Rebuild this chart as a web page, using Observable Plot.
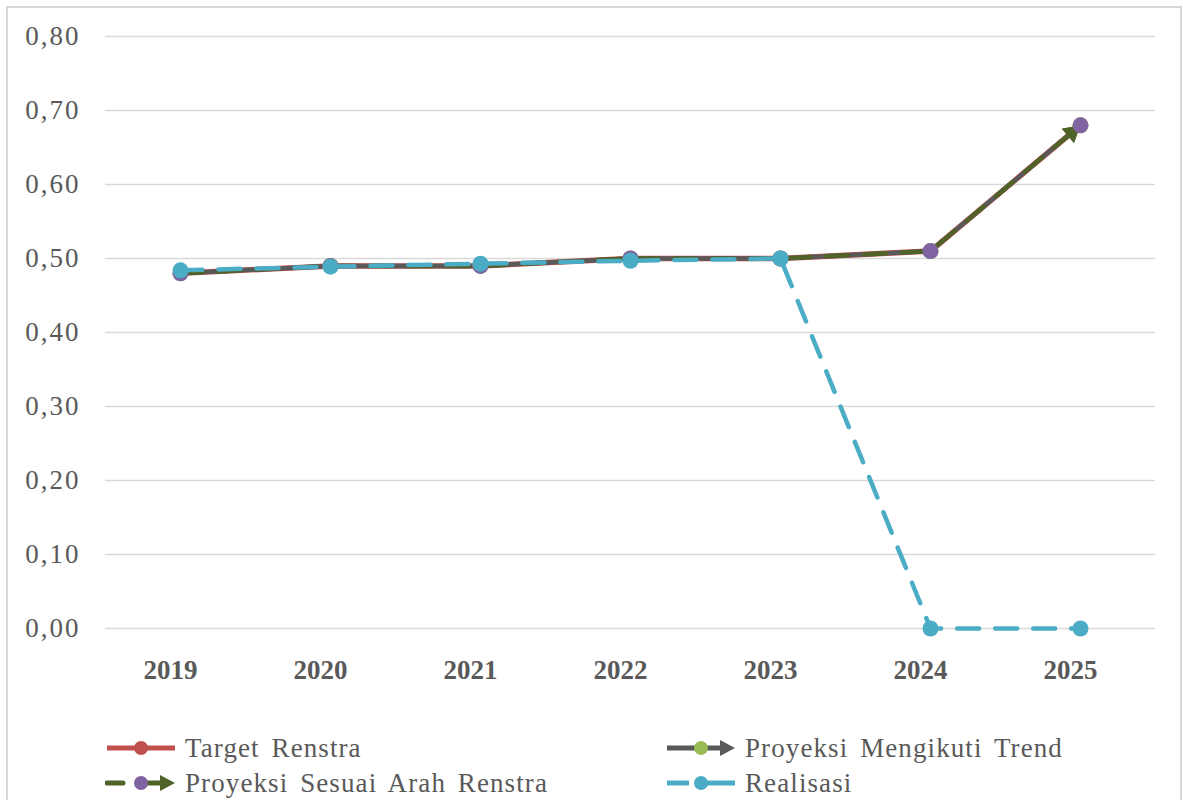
<!DOCTYPE html>
<html>
<head>
<meta charset="utf-8">
<script src="https://cdn.jsdelivr.net/npm/d3@7"></script>
<script src="https://cdn.jsdelivr.net/npm/@observablehq/plot@0.6"></script>
<style>
  html, body { margin: 0; padding: 0; background: #fff; }
  #wrap { position: relative; width: 1183px; height: 800px; overflow: hidden; font-family: "Liberation Serif", "Times New Roman", serif; color: #595959; }
  #chart { position: absolute; left: 0; top: 0; }
  #chart g[aria-label="y-axis tick label"] text { letter-spacing: 2px; }
  #border { position: absolute; left: 6px; top: 6px; width: 1172px; height: 820px; border: 2px solid #d9d9d9; pointer-events: none; }
  .leg { position: absolute; display: flex; align-items: center; font-size: 27px; letter-spacing: 1.1px; word-spacing: 4px; white-space: nowrap; }
  .leg svg { margin-right: 8px; }
</style>
</head>
<body>
<div id="wrap">
  <div id="chart"></div>
  <div id="legend"></div>
  <div id="border"></div>
</div>
<script>
// ---- data ----
const years = ["2019", "2020", "2021", "2022", "2023", "2024", "2025"];
const targetRenstra   = [0.48, 0.49, 0.49, 0.50, 0.50, 0.51, 0.68];
const proyeksiTrend   = [0.48, 0.49, 0.49, 0.50, 0.50, 0.51, 0.68];
const proyeksiRenstra = [0.48, 0.49, 0.49, 0.50, 0.50, 0.51, 0.68];
const realisasi       = [0.484, 0.489, 0.493, 0.497, 0.50, 0.00, 0.00];
const yTicks = [0, 0.1, 0.2, 0.3, 0.4, 0.5, 0.6, 0.7, 0.8];
const seriesNames = ["Target Renstra", "Proyeksi Mengikuti Trend", "Proyeksi Sesuai Arah Renstra", "Realisasi"];

// ---- styles ----
const C = {
  red: "#C0504D", gray: "#595959", lightGreen: "#9BBB59",
  darkGreen: "#4F6228", purple: "#8064A2", blue: "#4BACC6", grid: "#D9D9D9"
};

const rows = (vals) => years.map((y, i) => ({year: y, value: vals[i]}));
const tTarget = rows(targetRenstra);
const tTrend = rows(proyeksiTrend);
const tRenstra = rows(proyeksiRenstra);
const tReal = rows(realisasi);

const W = 1183, H = 700;
const mL = 105, mR = 28, mT = 36, mB = 72;

// scales for computing arrowhead orientation
const xs = Plot.scale({x: {type: "point", domain: years, range: [mL, W - mR], padding: 0.5}});
const ys = Plot.scale({y: {type: "linear", domain: [0, 0.8], range: [H - mB, mT]}});
function arrowFor(vals) {
  const n = vals.length;
  const x1 = xs.apply(years[n - 2]), y1 = ys.apply(vals[n - 2]);
  const x2 = xs.apply(years[n - 1]), y2 = ys.apply(vals[n - 1]);
  const dx = x2 - x1, dy = y2 - y1, len = Math.hypot(dx, dy);
  const rot = Math.atan2(dx, -dy) * 180 / Math.PI;
  const back = 11;
  return {datum: [{year: years[n - 1], value: vals[n - 1]}], rotate: rot, dx: -back * dx / len, dy: -back * dy / len};
}
const aTrend = arrowFor(proyeksiTrend);
const aRenstra = arrowFor(proyeksiRenstra);

const plot = Plot.plot({
  width: W, height: H,
  marginLeft: mL, marginRight: mR, marginTop: mT, marginBottom: mB,
  style: {fontFamily: "'Liberation Serif', 'Times New Roman', serif", color: "#595959", background: "transparent", overflow: "visible"},
  x: {type: "point", domain: years, padding: 0.5, label: null},
  y: {domain: [0, 0.8], label: null},
  marks: [
    Plot.gridY(yTicks, {stroke: C.grid, strokeOpacity: 1, strokeWidth: 1.6}),
    Plot.axisY(yTicks, {tickSize: 0, tickPadding: 25, fontSize: 27, tickFormat: d => d.toFixed(2).replace(".", ","), label: null}),
    Plot.axisX({tickSize: 0, tickPadding: 31, fontSize: 27, fontWeight: "bold", dx: -10, label: null}),
    // Target Renstra
    Plot.line(tTarget, {x: "year", y: "value", stroke: C.red, strokeWidth: 5.5}),
    Plot.dot(tTarget, {x: "year", y: "value", fill: C.red, r: 7}),
    // Proyeksi Mengikuti Trend
    Plot.line(tTrend, {x: "year", y: "value", stroke: C.gray, strokeWidth: 4.5}),
    Plot.dot(aTrend.datum, {x: "year", y: "value", symbol: "triangle", r: 7, fill: C.gray, rotate: aTrend.rotate, dx: aTrend.dx, dy: aTrend.dy}),
    Plot.dot(tTrend, {x: "year", y: "value", fill: C.lightGreen, r: 8}),
    // Proyeksi Sesuai Arah Renstra
    Plot.line(tRenstra, {x: "year", y: "value", stroke: C.darkGreen, strokeWidth: 4.5, strokeDasharray: "22,16"}),
    Plot.dot(aRenstra.datum, {x: "year", y: "value", symbol: "triangle", r: 7, fill: C.darkGreen, rotate: aRenstra.rotate, dx: aRenstra.dx, dy: aRenstra.dy}),
    Plot.dot(tRenstra, {x: "year", y: "value", fill: C.purple, r: 8}),
    // Realisasi
    Plot.line(tReal, {x: "year", y: "value", stroke: C.blue, strokeWidth: 4.5, strokeDasharray: "22,16"}),
    Plot.dot(tReal, {x: "year", y: "value", fill: C.blue, r: 8})
  ]
});
document.getElementById("chart").appendChild(plot);

// ---- legend ----
function sym(kind) {
  const w = 72, h = 22, cy = 11;
  let s = `<svg width="${w}" height="${h}" viewBox="0 0 ${w} ${h}">`;
  if (kind === 0) {
    s += `<line x1="2" x2="70" y1="${cy}" y2="${cy}" stroke="${C.red}" stroke-width="5"/>`;
    s += `<circle cx="36" cy="${cy}" r="7" fill="${C.red}"/>`;
  } else if (kind === 1) {
    s += `<line x1="2" x2="58" y1="${cy}" y2="${cy}" stroke="${C.gray}" stroke-width="5"/>`;
    s += `<path d="M55,${cy - 8} L70,${cy} L55,${cy + 8} Z" fill="${C.gray}"/>`;
    s += `<circle cx="36" cy="${cy}" r="7" fill="${C.lightGreen}"/>`;
  } else if (kind === 2) {
    s += `<line x1="2" x2="18" y1="${cy}" y2="${cy}" stroke="${C.darkGreen}" stroke-width="5" stroke-linecap="round"/>`;
    s += `<line x1="30" x2="58" y1="${cy}" y2="${cy}" stroke="${C.darkGreen}" stroke-width="5"/>`;
    s += `<path d="M55,${cy - 8} L70,${cy} L55,${cy + 8} Z" fill="${C.darkGreen}"/>`;
    s += `<circle cx="36" cy="${cy}" r="7" fill="${C.purple}"/>`;
  } else {
    s += `<line x1="2" x2="24" y1="${cy}" y2="${cy}" stroke="${C.blue}" stroke-width="5"/>`;
    s += `<line x1="32" x2="70" y1="${cy}" y2="${cy}" stroke="${C.blue}" stroke-width="5"/>`;
    s += `<circle cx="36" cy="${cy}" r="7" fill="${C.blue}"/>`;
  }
  return s + `</svg>`;
}
const legPos = [
  {left: 105, top: 732}, {left: 665, top: 732},
  {left: 105, top: 767}, {left: 665, top: 767}
];
const legOrder = [0, 1, 2, 3];
const legend = document.getElementById("legend");
legOrder.forEach((k, i) => {
  const d = document.createElement("div");
  d.className = "leg";
  d.style.left = legPos[i].left + "px";
  d.style.top = legPos[i].top + "px";
  d.style.height = "32px";
  d.innerHTML = sym(k) + `<span>${seriesNames[k]}</span>`;
  legend.appendChild(d);
});
</script>
</body>
</html>
